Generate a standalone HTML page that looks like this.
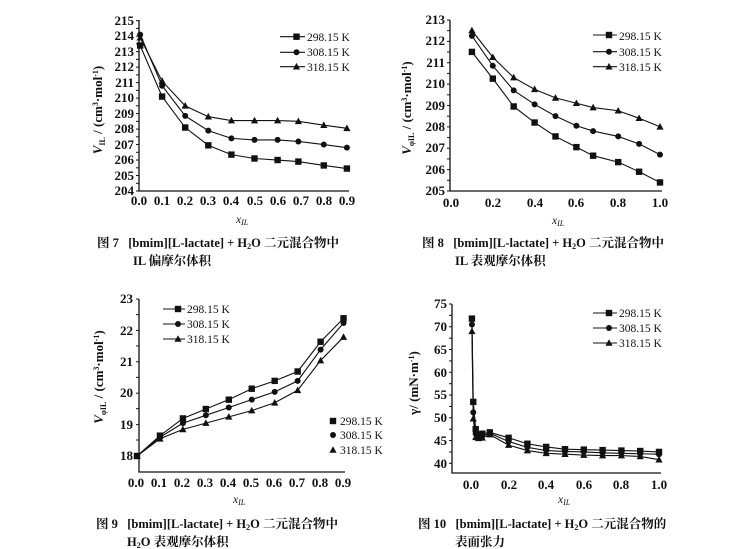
<!DOCTYPE html>
<html><head><meta charset="utf-8"><style>
html,body{margin:0;padding:0;background:#fff;}
svg{display:block;}
.t{font-family:"Liberation Serif","Noto Serif CJK SC",serif;font-weight:bold;font-size:13px;fill:#111;}
.l{font-family:"Liberation Serif",serif;font-size:11.5px;fill:#111;}
.c{font-family:"Liberation Serif","Noto Serif CJK SC",serif;font-size:12.5px;fill:#111;font-weight:bold;}
.ax{stroke:#111;stroke-width:1.3;fill:none;}
</style></head><body>
<svg id="s" width="750" height="549" viewBox="0 0 750 549" xmlns="http://www.w3.org/2000/svg">
<g id="g"></g>
<!-- Fig 7 -->
<g class="t" text-anchor="end">
<text x="134" y="25">215</text><text x="134" y="40">214</text><text x="134" y="56">213</text><text x="134" y="71">212</text><text x="134" y="87">211</text><text x="134" y="102">210</text><text x="134" y="118">209</text><text x="134" y="133">208</text><text x="134" y="149">207</text><text x="134" y="164">206</text><text x="134" y="180">205</text><text x="134" y="195">204</text>
</g>
<g class="t" text-anchor="middle">
<text x="139" y="205">0.0</text><text x="162" y="205">0.1</text><text x="185" y="205">0.2</text><text x="208" y="205">0.3</text><text x="231" y="205">0.4</text><text x="255" y="205">0.5</text><text x="278" y="205">0.6</text><text x="301" y="205">0.7</text><text x="324" y="205">0.8</text><text x="347" y="205">0.9</text>
</g>
<text class="l" x="236" y="223" font-style="italic" font-size="11">x<tspan font-size="8" dy="2">IL</tspan></text>
<text class="t" transform="translate(102,110) rotate(-90)" text-anchor="middle"><tspan font-style="italic">V</tspan><tspan font-size="8" dy="3">IL</tspan><tspan dy="-3"> / (cm</tspan><tspan font-size="8" dy="-4">3</tspan><tspan dy="4">·mol</tspan><tspan font-size="8" dy="-4">-1</tspan><tspan dy="4">)</tspan></text>
<text class="l" x="307" y="41">298.15 K</text><text class="l" x="307" y="56">308.15 K</text><text class="l" x="307" y="71">318.15 K</text>
<text class="c" x="97" y="247">图 7 &#160;&#160;[bmim][L-lactate] + H<tspan font-size="8" dy="2">2</tspan><tspan dy="-2">O 二元混合物中</tspan></text>
<text class="c" x="133" y="265">IL 偏摩尔体积</text>

<!-- Fig 8 -->
<g class="t" text-anchor="end">
<text x="445" y="24">213</text><text x="445" y="45">212</text><text x="445" y="67">211</text><text x="445" y="88">210</text><text x="445" y="110">209</text><text x="445" y="131">208</text><text x="445" y="152">207</text><text x="445" y="174">206</text><text x="445" y="195">205</text>
</g>
<g class="t" text-anchor="middle">
<text x="451" y="207">0.0</text><text x="493" y="207">0.2</text><text x="535" y="207">0.4</text><text x="576" y="207">0.6</text><text x="618" y="207">0.8</text><text x="660" y="207">1.0</text>
</g>
<text class="l" x="552" y="224" font-style="italic" font-size="11">x<tspan font-size="8" dy="2">IL</tspan></text>
<text class="t" transform="translate(411,108) rotate(-90)" text-anchor="middle"><tspan font-style="italic">V</tspan><tspan font-size="8" dy="3">φIL</tspan><tspan dy="-3"> / (cm</tspan><tspan font-size="8" dy="-4">3</tspan><tspan dy="4">·mol</tspan><tspan font-size="8" dy="-4">-1</tspan><tspan dy="4">)</tspan></text>
<text class="l" x="619" y="40">298.15 K</text><text class="l" x="619" y="56">308.15 K</text><text class="l" x="619" y="71">318.15 K</text>
<text class="c" x="422" y="247">图 8 &#160;&#160;[bmim][L-lactate] + H<tspan font-size="8" dy="2">2</tspan><tspan dy="-2">O 二元混合物中</tspan></text>
<text class="c" x="455" y="265">IL 表观摩尔体积</text>

<!-- Fig 9 -->
<g class="t" text-anchor="end">
<text x="133" y="303">23</text><text x="133" y="335">22</text><text x="133" y="366">21</text><text x="133" y="397">20</text><text x="133" y="429">19</text><text x="133" y="460">18</text>
</g>
<g class="t" text-anchor="middle">
<text x="136" y="487">0.0</text><text x="159" y="487">0.1</text><text x="182" y="487">0.2</text><text x="205" y="487">0.3</text><text x="228" y="487">0.4</text><text x="251" y="487">0.5</text><text x="274" y="487">0.6</text><text x="297" y="487">0.7</text><text x="320" y="487">0.8</text><text x="343" y="487">0.9</text>
</g>
<text class="l" x="233" y="503" font-style="italic" font-size="11">x<tspan font-size="8" dy="2">IL</tspan></text>
<text class="t" transform="translate(103,377) rotate(-90)" text-anchor="middle"><tspan font-style="italic">V</tspan><tspan font-size="8" dy="3">φIL</tspan><tspan dy="-3"> / (cm</tspan><tspan font-size="8" dy="-4">3</tspan><tspan dy="4">·mol</tspan><tspan font-size="8" dy="-4">-1</tspan><tspan dy="4">)</tspan></text>
<text class="l" x="187" y="313">298.15 K</text><text class="l" x="187" y="328">308.15 K</text><text class="l" x="187" y="343">318.15 K</text>
<text class="l" x="340" y="425">298.15 K</text><text class="l" x="340" y="439">308.15 K</text><text class="l" x="340" y="454">318.15 K</text>
<text class="c" x="96" y="528">图 9 &#160;&#160;[bmim][L-lactate] + H<tspan font-size="8" dy="2">2</tspan><tspan dy="-2">O 二元混合物中</tspan></text>
<text class="c" x="127" y="546">H<tspan font-size="8" dy="2">2</tspan><tspan dy="-2">O 表观摩尔体积</tspan></text>

<!-- Fig 10 -->
<g class="t" text-anchor="end">
<text x="447" y="308">75</text><text x="447" y="331">70</text><text x="447" y="354">65</text><text x="447" y="377">60</text><text x="447" y="399">55</text><text x="447" y="422">50</text><text x="447" y="445">45</text><text x="447" y="468">40</text>
</g>
<g class="t" text-anchor="middle">
<text x="471" y="489">0.0</text><text x="509" y="489">0.2</text><text x="546" y="489">0.4</text><text x="584" y="489">0.6</text><text x="621" y="489">0.8</text><text x="659" y="489">1.0</text>
</g>
<text class="l" x="558" y="503" font-style="italic" font-size="11">x<tspan font-size="8" dy="2">IL</tspan></text>
<text class="t" transform="translate(418,383) rotate(-90)" text-anchor="middle">γ/ (mN·m<tspan font-size="8" dy="-4">-1</tspan><tspan dy="4">)</tspan></text>
<text class="l" x="619" y="317">298.15 K</text><text class="l" x="619" y="332">308.15 K</text><text class="l" x="619" y="347">318.15 K</text>
<text class="c" x="418" y="528">图 10 &#160;&#160;[bmim][L-lactate] + H<tspan font-size="8" dy="2">2</tspan><tspan dy="-2">O 二元混合物的</tspan></text>
<text class="c" x="455" y="546">表面张力</text>
</svg>
<script>
var g=document.getElementById('g'),NS='http://www.w3.org/2000/svg';
function el(n,a){var e=document.createElementNS(NS,n);for(var k in a)e.setAttribute(k,a[k]);g.appendChild(e);return e;}
function mk(t,x,y,s){s=s||1;
 if(t==0)el('rect',{x:x-3.2*s,y:y-3.2*s,width:6.4*s,height:6.4*s,fill:'#111'});
 else if(t==1)el('circle',{cx:x,cy:y,r:3*s,fill:'#111'});
 else el('polygon',{points:(x)+','+(y-3.8*s)+' '+(x-3.6*s)+','+(y+2.8*s)+' '+(x+3.6*s)+','+(y+2.8*s),fill:'#111'});}
function axes(x0,y0,x1,y1,yt){el('path',{d:'M'+x0+' '+y0+'V'+y1+'H'+x1,'class':'ax'});
 yt.forEach(function(y){el('line',{x1:x0-3,x2:x0,y1:y,y2:y,stroke:'#111','stroke-width':1});});}
function series(f,xs,sets){sets.forEach(function(d,i){var p=d.map(function(v,j){return f(xs[j],v);});
 el('polyline',{points:p.map(function(q){return q.join(',')}).join(' '),fill:'none',stroke:'#111','stroke-width':1.1});
 p.forEach(function(q){mk(i,q[0],q[1]);});});}
function leg(x1,x2,ys){ys.forEach(function(y,i){el('line',{x1:x1,x2:x2,y1:y,y2:y,stroke:'#111','stroke-width':1.1});mk(i,(x1+x2)/2+4,y);});}
function range(a,b,n){var r=[];for(var i=0;i<n;i++)r.push(a+(b-a)*i/(n-1));return r;}
axes(139,20,349,191,range(20.7,191,12).concat(range(28.4,183.3,11)));
series(function(x,v){return [139+x*231,191-(v-204)*15.48];},[0.005,.1,.2,.3,.4,.5,.6,.69,.8,.9],
[[213.4,210.1,208.1,206.95,206.35,206.1,206.0,205.9,205.65,205.45],
 [214.1,210.8,208.85,207.9,207.4,207.3,207.3,207.2,207.0,206.8],
 [213.9,211.1,209.5,208.8,208.55,208.55,208.55,208.5,208.25,208.05]]);
leg(280,305,[36.7,52.3,66.7]);
axes(450,20,662,191,range(20,191,9).concat(range(30.7,180.3,8)));
series(function(x,v){return [451+x*209,191-(v-205)*21.4];},[.1,.2,.3,.4,.5,.6,.68,.8,.9,1.0],
[[211.5,210.25,208.95,208.2,207.55,207.05,206.65,206.35,205.9,205.4],
 [212.25,210.85,209.7,209.05,208.5,208.05,207.8,207.55,207.2,206.7],
 [212.5,211.25,210.3,209.75,209.35,209.1,208.9,208.75,208.4,208.0]]);
leg(593,617,[35,51.7,66.7]);
axes(139,299,345,472,range(299,456,6).concat(range(314.6,440,5)));
series(function(x,v){return [137+x*229.5,456-(v-18)*31.3];},[0,.1,.2,.3,.4,.5,.6,.7,.8,.9],
[[18.0,18.65,19.2,19.5,19.8,20.15,20.4,20.7,21.65,22.4],
 [18.0,18.6,19.05,19.3,19.55,19.8,20.05,20.4,21.4,22.25],
 [18.0,18.55,18.85,19.05,19.25,19.45,19.7,20.1,21.05,21.8]]);
leg(163,185,[309,324,339]);
mk(0,333,421);mk(1,333,435);mk(2,333,450);
axes(452,304,661,473,range(304,463.3,8).concat(range(315.4,452,7)));
series(function(x,v){return [471+x*188,463.3-(v-40)*4.55];},[.005,.012,.025,.04,.06,.1,.2,.3,.4,.5,.6,.7,.8,.9,1.0],
[[71.8,53.5,47.5,46.2,46.5,46.8,45.6,44.3,43.6,43.1,43.0,42.9,42.8,42.7,42.5],
 [70.5,51.2,46.5,45.8,46.0,46.6,44.8,43.5,42.8,42.6,42.5,42.3,42.2,42.1,42.0],
 [69,49.8,45.7,45.5,45.6,46.3,44.0,42.8,42.2,42.0,41.8,41.7,41.7,41.5,40.8]]);
leg(593,617,[313,328,343]);
</script>
</body></html>
